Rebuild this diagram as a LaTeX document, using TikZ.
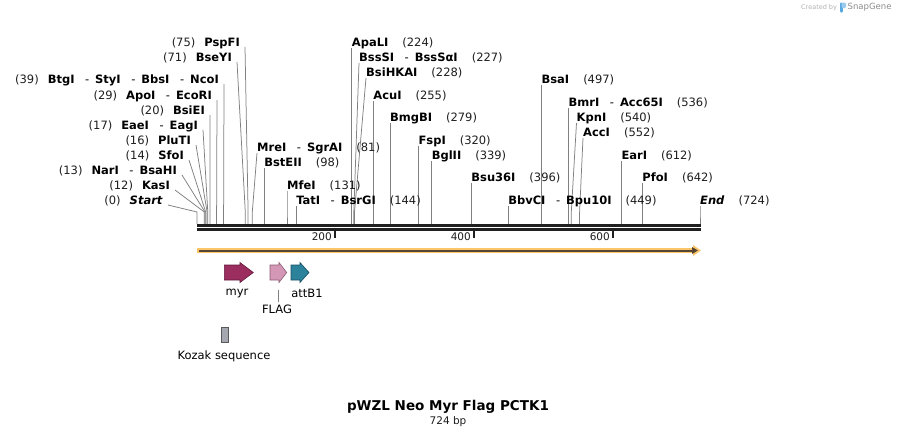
\documentclass[tikz,border=0pt]{standalone}
\usepackage{fontspec}
\setmainfont{DejaVu Sans}
\usetikzlibrary{arrows.meta,calc}
\pgfdeclarelayer{lines}
\pgfsetlayers{lines,main}
\definecolor{cutgray}{RGB}{128,128,128}
\definecolor{seqdark}{RGB}{32,32,32}
\definecolor{orangeband}{RGB}{250,198,105}
\definecolor{orangeline}{RGB}{88,70,52}
\definecolor{myrfill}{RGB}{155,45,95}
\definecolor{myrdraw}{RGB}{100,25,60}
\definecolor{flagfill}{RGB}{212,152,182}
\definecolor{flagdraw}{RGB}{140,90,115}
\definecolor{attfill}{RGB}{45,130,155}
\definecolor{attdraw}{RGB}{25,80,100}
\definecolor{kozakfill}{RGB}{165,168,176}
\definecolor{numcol}{RGB}{30,30,30}
\definecolor{snapblue}{RGB}{90,170,225}
\newcommand{\cutnum}[1]{{\color{numcol}(#1)}}
\newcommand{\enzsep}{\hspace{10.5pt}-\hspace{6pt}}
\newcommand{\enzB}[1]{\textbf{#1}}
\newcommand{\siteL}[5]{%
  \node[lbl, anchor=east] (L#1) at (#2,#3) {#5};
  \coordinate (k#1) at (#4,212);
  \coordinate (s#1) at (#4,224);
  \begin{pgfonlayer}{lines}
  \draw[cut] ($(L#1.east)+(5,5)$) -- (k#1) -- (s#1);
  \end{pgfonlayer}}
\newcommand{\siteR}[5]{%
  \node[lbl, anchor=west] (R#1) at (#2,#3) {#5};
  \coordinate (k#1) at (#4,212);
  \coordinate (s#1) at (#4,224);
  \begin{pgfonlayer}{lines}
  \draw[cut] ($(R#1.west)+(0,6)$) -- (k#1) -- (s#1);
  \end{pgfonlayer}}
\newcommand{\featarr}[5]{%
  \filldraw[fill=#4, draw=#5, line width=0.6pt, line join=miter]
    (#1,265) -- (#2,265) -- (#2,262.5) -- (#3,272.5) -- (#2,282.5) -- (#2,280) -- (#1,280) -- cycle;}
\begin{document}
\begin{tikzpicture}[x=1pt, y=-1pt,
  lbl/.style={inner xsep=0pt, inner ysep=2.5pt, font=\fontsize{11.5}{13}\selectfont, text height=8.4pt, text depth=0pt},
  cut/.style={draw=cutgray, line width=0.75pt},
  featlbl/.style={inner sep=0pt, font=\fontsize{11.5}{13}\selectfont}]
\begin{pgfonlayer}{lines}
\fill[white] (0,0) rectangle (898,437);
\end{pgfonlayer}
\useasboundingbox (0,0) rectangle (898,437);

% left-side cut sites
\siteL{75}{240}{42}{248.1}{\cutnum{75}\hspace{9pt}\enzB{PspFI}}
\siteL{71}{232}{57}{245.3}{\cutnum{71}\hspace{9pt}\enzB{BseYI}}
\siteL{39}{219}{79}{223.6}{\cutnum{39}\hspace{9pt}\enzB{BtgI}\enzsep\enzB{StyI}\enzsep\enzB{BbsI}\enzsep\enzB{NcoI}}
\siteL{29}{212}{95}{216.6}{\cutnum{29}\hspace{9pt}\enzB{ApoI}\enzsep\enzB{EcoRI}}
\siteL{20}{205}{110}{209.9}{\cutnum{20}\hspace{9pt}\enzB{BsiEI}}
\siteL{17}{198}{125}{207.8}{\cutnum{17}\hspace{9pt}\enzB{EaeI}\enzsep\enzB{EagI}}
\siteL{16}{191}{140}{207.1}{\cutnum{16}\hspace{9pt}\enzB{PluTI}}
\siteL{14}{184}{155}{205.7}{\cutnum{14}\hspace{9pt}\enzB{SfoI}}
\siteL{13}{177}{170}{205.0}{\cutnum{13}\hspace{9pt}\enzB{NarI}\enzsep\enzB{BsaHI}}
\siteL{12}{170}{185}{204.3}{\cutnum{12}\hspace{9pt}\enzB{KasI}}
\siteL{0}{163}{200}{197}{\cutnum{0}\hspace{9pt}\enzB{\textit{Start}}}

% right-side cut sites
\siteR{81}{257}{147}{252.3}{\enzB{MreI}\enzsep\enzB{SgrAI}\hspace{14pt}\cutnum{81}}
\siteR{98}{264.1}{162}{264.1}{\enzB{BstEII}\hspace{14pt}\cutnum{98}}
\siteR{131}{287}{185}{287}{\enzB{MfeI}\hspace{14pt}\cutnum{131}}
\siteR{144}{296.1}{200}{296.1}{\enzB{TatI}\enzsep\enzB{BsrGI}\hspace{14pt}\cutnum{144}}
\siteR{224}{351.7}{42}{351.7}{\enzB{ApaLI}\hspace{14pt}\cutnum{224}}
\siteR{227}{359}{57}{353.8}{\enzB{BssSI}\enzsep\enzB{BssSαI}\hspace{14pt}\cutnum{227}}
\siteR{228}{366}{72}{354.5}{\enzB{BsiHKAI}\hspace{14pt}\cutnum{228}}
\siteR{255}{373.2}{95}{373.2}{\enzB{AcuI}\hspace{14pt}\cutnum{255}}
\siteR{279}{389.9}{117}{389.9}{\enzB{BmgBI}\hspace{14pt}\cutnum{279}}
\siteR{320}{418.4}{140}{418.4}{\enzB{FspI}\hspace{14pt}\cutnum{320}}
\siteR{339}{431.6}{155}{431.6}{\enzB{BglII}\hspace{14pt}\cutnum{339}}
\siteR{396}{471.2}{177}{471.2}{\enzB{Bsu36I}\hspace{14pt}\cutnum{396}}
\siteR{449}{508.1}{200}{508.1}{\enzB{BbvCI}\enzsep\enzB{Bpu10I}\hspace{14pt}\cutnum{449}}
\siteR{497}{541.4}{79}{541.4}{\enzB{BsaI}\hspace{14pt}\cutnum{497}}
\siteR{536}{568.5}{102}{568.5}{\enzB{BmrI}\enzsep\enzB{Acc65I}\hspace{14pt}\cutnum{536}}
\siteR{540}{576.5}{117}{571.3}{\enzB{KpnI}\hspace{14pt}\cutnum{540}}
\siteR{552}{583}{132}{579.6}{\enzB{AccI}\hspace{14pt}\cutnum{552}}
\siteR{612}{621.3}{155}{621.3}{\enzB{EarI}\hspace{14pt}\cutnum{612}}
\siteR{642}{642.2}{177}{642.2}{\enzB{PfoI}\hspace{14pt}\cutnum{642}}
\siteR{724}{700}{200}{700}{\enzB{\textit{End}}\hspace{14pt}\cutnum{724}}

% sequence (double line)
\coordinate (seqA) at (197,225.3);
\coordinate (seqB) at (701,225.3);
\coordinate (seqC) at (197,229.6);
\coordinate (seqD) at (701,229.6);
\draw[seqdark, line width=2.7pt] (seqA) -- (seqB);
\draw[seqdark, line width=2.7pt] (seqC) -- (seqD);

% ruler ticks
\foreach \xx/\lab in {335/200, 474/400, 613/600} {
  \draw[seqdark, line width=1.8pt] (\xx,230.5) -- (\xx,237.5);
  \node[anchor=east, inner sep=0pt, font=\fontsize{10.5}{12}\selectfont, text=numcol] (tick\lab) at (\xx-3,237) {\lab};
}

% orange feature bar
\coordinate (barA) at (197,250.5);
\coordinate (barB) at (701,250.5);
\coordinate (barC) at (198.5,250.5);
\coordinate (barD) at (698,250.5);
\draw[orangeband, line width=5.6pt, -{Triangle[length=8pt,width=10.5pt]}] (barA) -- (barB);
\draw[orangeline, line width=2pt, -{Triangle[length=6pt,width=6.5pt]}] (barC) -- (barD);

% features
\featarr{224.3}{240}{253.3}{myrfill}{myrdraw}
\featarr{270}{279}{286.7}{flagfill}{flagdraw}
\featarr{291}{300}{309}{attfill}{attdraw}
\node[featlbl] (myr) at (237,293) {myr};
\node[featlbl] (attB1) at (307,293) {attB1};
\node[featlbl] (FLAG) at (277,309.5) {FLAG};
\coordinate (flagtop) at (278.3,289.5);
\draw[gray, line width=0.6pt] (flagtop) -- ($(flagtop |- FLAG.north)+(0,-3)$);
\filldraw[fill=kozakfill, draw=black!65, line width=0.6pt] (221,327) rectangle (228.3,342);
\node[featlbl] (kozak) at (224,356) {Kozak sequence};

% title
\node[font=\bfseries\fontsize{13.5}{16}\selectfont, inner sep=0pt] (title) at (448,407) {pWZL Neo Myr Flag PCTK1};
\node[font=\fontsize{10.5}{12}\selectfont, inner sep=0pt, text=numcol] (bp) at (448,422) {724 bp};

% watermark
\node[anchor=west, inner sep=0pt, font=\fontsize{6.5}{7}\selectfont, text=black!30] (createdby) at (801,7.5) {Created by};
\fill[snapblue, rounded corners=1pt] (840,2.5) rectangle (842.8,12.5);
\fill[snapblue!60, rounded corners=1.2pt] (841.5,2.5) rectangle (846,8);
\node[anchor=west, inner sep=0pt, font=\fontsize{8.5}{9}\selectfont, text=black!45] (snapgene) at (847.5,7.5) {SnapGene};
\end{tikzpicture}
\end{document}
